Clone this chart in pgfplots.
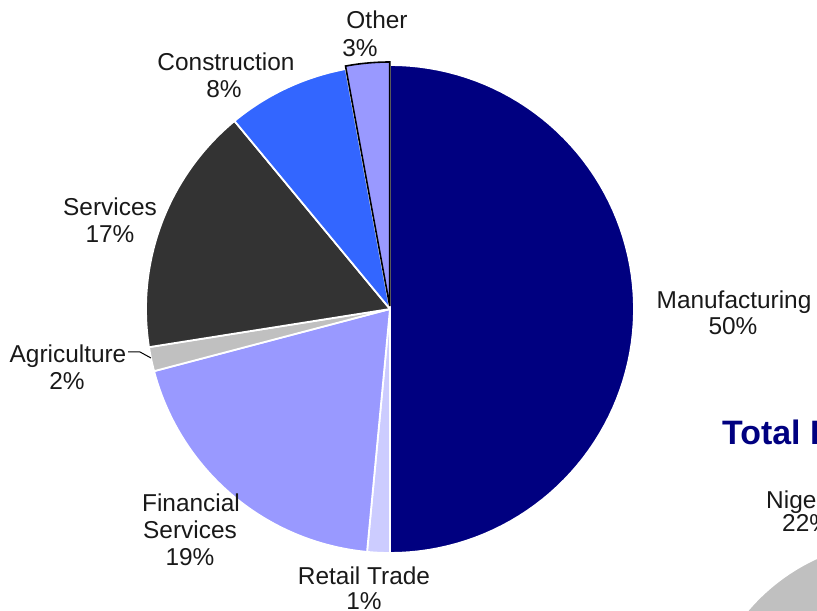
\documentclass[border=0pt]{standalone}
\usepackage{pgfplots}
\pgfplotsset{compat=1.18}
\usepackage{fontspec}
\setmainfont{Liberation Sans}
\definecolor{manu}{HTML}{000080}
\definecolor{retail}{HTML}{CCCCFF}
\definecolor{fin}{HTML}{9999FF}
\definecolor{agri}{HTML}{C0C0C0}
\definecolor{serv}{HTML}{333333}
\definecolor{cons}{HTML}{3366FF}
\definecolor{other}{HTML}{9999FF}
\definecolor{totalc}{HTML}{000080}
% slice shares (percent), clockwise from 12 o'clock
\def\pManu{50}
\def\pRet{1.5}
\def\pFin{19.4}
\def\pAgr{1.6}
\def\pSer{16.5}
\def\pCon{8.1}
\def\pOth{2.9}
\pgfmathsetmacro\aA{90}
\pgfmathsetmacro\aB{\aA-3.6*\pManu}
\pgfmathsetmacro\aC{\aB-3.6*\pRet}
\pgfmathsetmacro\aD{\aC-3.6*\pFin}
\pgfmathsetmacro\aE{\aD-3.6*\pAgr}
\pgfmathsetmacro\aF{\aE-3.6*\pSer}
\pgfmathsetmacro\aG{\aF-3.6*\pCon}
\pgfmathsetmacro\aH{\aG-3.6*\pOth}
\pgfmathsetmacro\aMid{(\aG+\aH)/2}
\pgfmathsetmacro\ox{390+3*cos(\aMid)}
\pgfmathsetmacro\oy{302+3*sin(\aMid)}
\newcommand\slice[3]{%
  \addplot[fill=#1, draw=white, line width=1.8bp, line join=round, domain=#3:#2, samples=80]
    ({390+244*cos(x)},{302+244*sin(x)}) -- (390,302) -- cycle;}
\newcommand\lab[3]{\node[anchor=base, inner sep=0pt, font=\fontsize{24.5}{28}\selectfont, text=black!90] at (axis cs:#1,#2) {#3};}
\begin{document}
\begin{tikzpicture}
\begin{axis}[at={(0,0)}, anchor=south west, scale only axis,
  width=817bp, height=611bp, xmin=0, xmax=817, ymin=0, ymax=611,
  axis lines=none, clip=true]
% second (cropped) pie
\addplot[fill=agri, draw=white, line width=1.8bp, domain=95:165, samples=80]
  ({900+200*cos(x)},{-129+200*sin(x)}) -- (900,-129) -- cycle;
% main pie
\slice{manu}{\aA}{\aB}
\slice{retail}{\aB}{\aC}
\slice{fin}{\aC}{\aD}
\slice{agri}{\aD}{\aE}
\slice{serv}{\aE}{\aF}
\slice{cons}{\aF}{\aG}
\addplot[fill=other, draw=black, line width=1.6bp, line join=miter, domain=\aH:\aG, samples=30]
  ({\ox+244*cos(x)},{\oy+244*sin(x)}) -- (\ox,\oy) -- cycle;
% leader line
\addplot[black, line width=1bp, mark=none] coordinates {(128,259) (140,259) (151,253)};
\end{axis}
\begin{axis}[at={(0,0)}, anchor=south west, scale only axis,
  width=817bp, height=611bp, xmin=0, xmax=817, ymin=0, ymax=611,
  axis lines=none, clip=false]
\lab{377}{582}{Other}
\lab{360}{554}{3\%}
\lab{226}{540}{Construction}
\lab{224}{513}{8\%}
\lab{110}{395}{Services}
\lab{110}{368}{17\%}
\lab{734}{302}{Manufacturing}
\lab{733}{276}{50\%}
\lab{68}{248}{Agriculture}
\lab{67}{221}{2\%}
\lab{191}{99}{Financial}
\lab{190}{72}{Services}
\lab{190}{45}{19\%}
\lab{364}{26}{Retail Trade}
\lab{364}{1.5}{1\%}
\node[anchor=base west, inner sep=0pt, font=\fontsize{34}{40}\selectfont\bfseries, text=totalc] at (axis cs:722,166.5) {Total Investment};
\node[anchor=base west, inner sep=0pt, font=\fontsize{24.5}{28}\selectfont, text=black!90] at (axis cs:766,102) {Nigeria};
\node[anchor=base west, inner sep=0pt, font=\fontsize{24.5}{28}\selectfont, text=black!90] at (axis cs:782,79) {22\%};
\end{axis}
\pgfresetboundingbox
\useasboundingbox (0,0) rectangle (817bp,611bp);
\end{tikzpicture}
\end{document}
